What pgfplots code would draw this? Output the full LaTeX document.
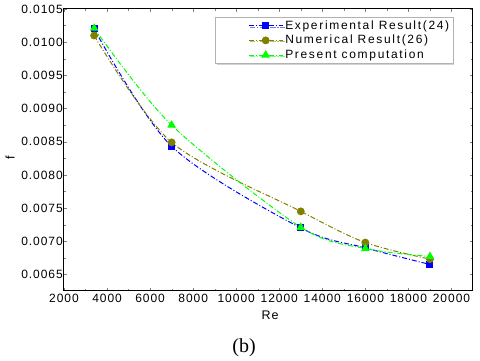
\documentclass[border=0pt]{standalone}
\usepackage{pgfplots}
\pgfplotsset{compat=1.18}
\usepackage{fontspec}
\setmainfont{Liberation Sans}[LetterSpace=8]
\newfontfamily\legfont{Liberation Sans}[LetterSpace=14]
\newfontfamily\capfont{Liberation Serif}
\usetikzlibrary{shadows}
\definecolor{expblue}{RGB}{0,0,255}
\definecolor{numolive}{RGB}{128,128,0}
\definecolor{presgreen}{RGB}{0,255,0}
\begin{document}
\begin{tikzpicture}[x=1pt,y=1pt]
\useasboundingbox (-64,-70) rectangle (416,291);
\begin{axis}[
    at={(0,0)}, anchor=south west,
    scale only axis, width=409pt, height=282pt,
    xmin=2000, xmax=21000, ymin=0.00625, ymax=0.0105,
    xtick={2000,4000,...,20000},
    ytick={0.0065,0.0070,...,0.0105},
    minor tick num=1,
    tick align=inside,
    major tick length=3pt, minor tick length=2pt,
    axis line style={line width=1pt},
    font=\fontsize{12}{14}\selectfont,
    /pgf/number format/assume math mode=true,
    scaled ticks=false,
    xticklabel style={/pgf/number format/.cd, fixed, set thousands separator={}, /tikz/.cd, inner sep=0pt, yshift=-3pt},
    yticklabel style={/pgf/number format/.cd, fixed, fixed zerofill, precision=4, /tikz/.cd, inner sep=0pt, xshift=-1pt},
    legend style={at={(0.951,0.972)}, anchor=north east, draw=gray!60, fill=white,
        drop shadow={shadow xshift=1.5pt, shadow yshift=-1.5pt, fill=gray!70},
        font=\legfont\fontsize{12}{14}\selectfont, row sep=0.5pt, inner sep=1.5pt},
    legend cell align=left,
    legend image code/.code={
        \path (-1.1cm,0);
        \draw[mark repeat=2,mark phase=2] plot coordinates {(0cm,0cm) (0.6cm,0cm) (1.2cm,0cm)};
    },
    every axis plot/.append style={line width=1pt, dash pattern=on 5pt off 2pt on 1pt off 2pt},
]
\addplot[color=expblue, smooth, mark=square*, mark size=3pt, mark options={solid}]
coordinates {(3400,0.01020) (7000,0.00843) (13000,0.00720) (16000,0.00690) (19000,0.00665)};
\addlegendentry{Experimental Result(24)}
\addplot[color=numolive, smooth, mark=*, mark size=3.4pt, mark options={solid}]
coordinates {(3400,0.01010) (7000,0.00849) (13000,0.00745) (16000,0.00698) (19000,0.00673)};
\addlegendentry{Numerical Result(26)}
\addplot[color=presgreen, smooth, mark=triangle*, mark size=4pt, mark options={solid}]
coordinates {(3400,0.01021) (7000,0.00875) (13000,0.00721) (16000,0.00689) (19000,0.00677)};
\addlegendentry{Present computation}
\end{axis}
\node[font=\fontsize{12.5}{14}\selectfont] at (206,-24) {Re};
\node[font=\fontsize{12.5}{14}\selectfont, rotate=90] at (-54,133) {f};
\node[font=\capfont\fontsize{20}{22}\selectfont] at (180,-57) {(b)};
\end{tikzpicture}
\end{document}
